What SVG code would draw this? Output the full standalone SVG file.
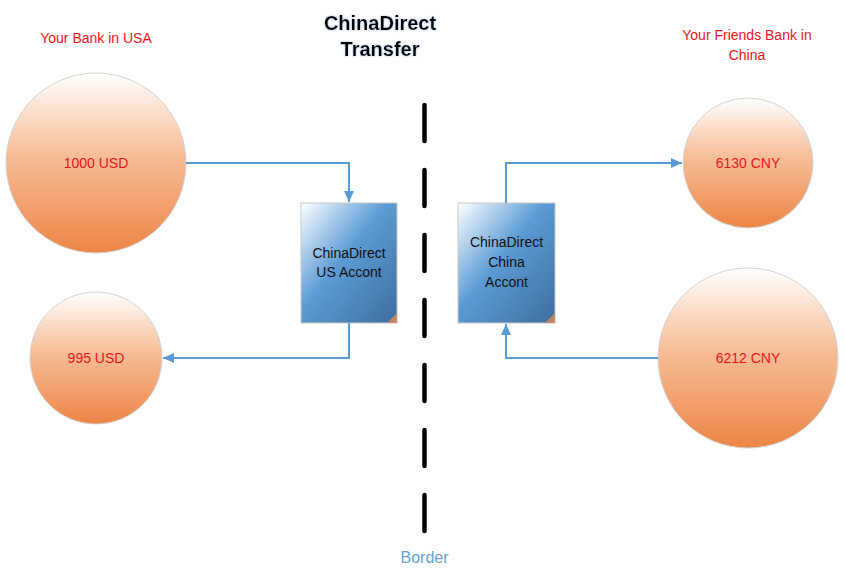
<svg xmlns="http://www.w3.org/2000/svg" width="845" height="579" viewBox="0 0 845 579">
<defs>
<linearGradient id="orange" x1="0" y1="0" x2="0" y2="1">
<stop offset="0" stop-color="#FFFFFF"/>
<stop offset="0.45" stop-color="#F6BE98"/>
<stop offset="1" stop-color="#ED8546"/>
</linearGradient>
<linearGradient id="blue" x1="0" y1="0" x2="1" y2="1">
<stop offset="0" stop-color="#FFFFFF"/>
<stop offset="0.45" stop-color="#5B9BD5"/>
<stop offset="1" stop-color="#3F6E9E"/>
</linearGradient>
<marker id="arr" viewBox="0 0 11 10" refX="11" refY="5" markerWidth="5.5" markerHeight="5" markerUnits="strokeWidth" orient="auto">
<path d="M0,0 L11,5 L0,10 z" fill="#5B9BD5"/>
</marker>
<filter id="glow" x="-10%" y="-20%" width="120%" height="140%">
<feGaussianBlur in="SourceAlpha" stdDeviation="1.2" result="b"/>
<feFlood flood-color="#9DB9D9"/>
<feComposite in2="b" operator="in" result="s"/>
<feMerge><feMergeNode in="s"/><feMergeNode in="SourceGraphic"/></feMerge>
</filter>
</defs>
<style>
.circle{fill:url(#orange);stroke:#D3D3D3;stroke-width:1}
.box{fill:url(#blue);stroke:#C8C8C8;stroke-width:1}
.red{font-family:"Liberation Sans",Arial,sans-serif;font-size:14px;fill:#E8161B;text-anchor:middle}
.lbl{font-family:"Liberation Sans",Arial,sans-serif;font-size:14px;fill:#111111;text-anchor:middle}
.title{font-family:"Liberation Sans",Arial,sans-serif;font-size:20px;font-weight:bold;fill:#000;text-anchor:middle}
.conn{fill:none;stroke:#5B9BD5;stroke-width:2}
</style>
<rect width="845" height="579" fill="#FFFFFF"/>

<g id="title" filter="url(#glow)">
<text class="title" x="380" y="30">ChinaDirect</text>
<text class="title" x="380" y="56">Transfer</text>
</g>

<g id="label-usa"><text class="red" x="96" y="43">Your Bank in USA</text></g>
<g id="label-china">
<text class="red" x="747" y="40">Your Friends Bank in</text>
<text class="red" x="747" y="60">China</text>
</g>

<g id="border">
<line x1="424.5" y1="105" x2="424.5" y2="531" stroke="#000" stroke-width="4.5" stroke-linecap="round" stroke-dasharray="36 29"/>
<text x="424.5" y="563" font-family="Liberation Sans, Arial, sans-serif" font-size="16" fill="#6A9FD0" text-anchor="middle">Border</text>
</g>

<g id="usd1000">
<circle class="circle" cx="96" cy="163" r="90"/>
<text class="red" x="96" y="168">1000 USD</text>
</g>
<g id="usd995">
<circle class="circle" cx="96" cy="358" r="66"/>
<text class="red" x="96" y="363">995 USD</text>
</g>
<g id="cny6130">
<circle class="circle" cx="748" cy="163" r="65"/>
<text class="red" x="748" y="168">6130 CNY</text>
</g>
<g id="cny6212">
<circle class="circle" cx="748" cy="358" r="90"/>
<text class="red" x="748" y="363">6212 CNY</text>
</g>

<g id="us-account">
<rect class="box" x="301" y="203" width="96" height="120"/>
<path d="M397,313 L397,323 L387,323 z" fill="#E08A5A" opacity="0.8"/>
<text class="lbl" x="349" y="258">ChinaDirect</text>
<text class="lbl" x="349" y="277">US Accont</text>
</g>
<g id="china-account">
<rect class="box" x="458" y="203" width="97" height="120"/>
<path d="M555,313 L555,323 L545,323 z" fill="#E08A5A" opacity="0.8"/>
<text class="lbl" x="506.5" y="247">ChinaDirect</text>
<text class="lbl" x="506.5" y="267">China</text>
<text class="lbl" x="506.5" y="287">Accont</text>
</g>

<g id="connectors">
<path class="conn" d="M186,163 H349 V202" marker-end="url(#arr)"/>
<path class="conn" d="M349,323 V358 H163" marker-end="url(#arr)"/>
<path class="conn" d="M506,203 V163 H682" marker-end="url(#arr)"/>
<path class="conn" d="M658,358 H506 V324" marker-end="url(#arr)"/>
</g>
</svg>
